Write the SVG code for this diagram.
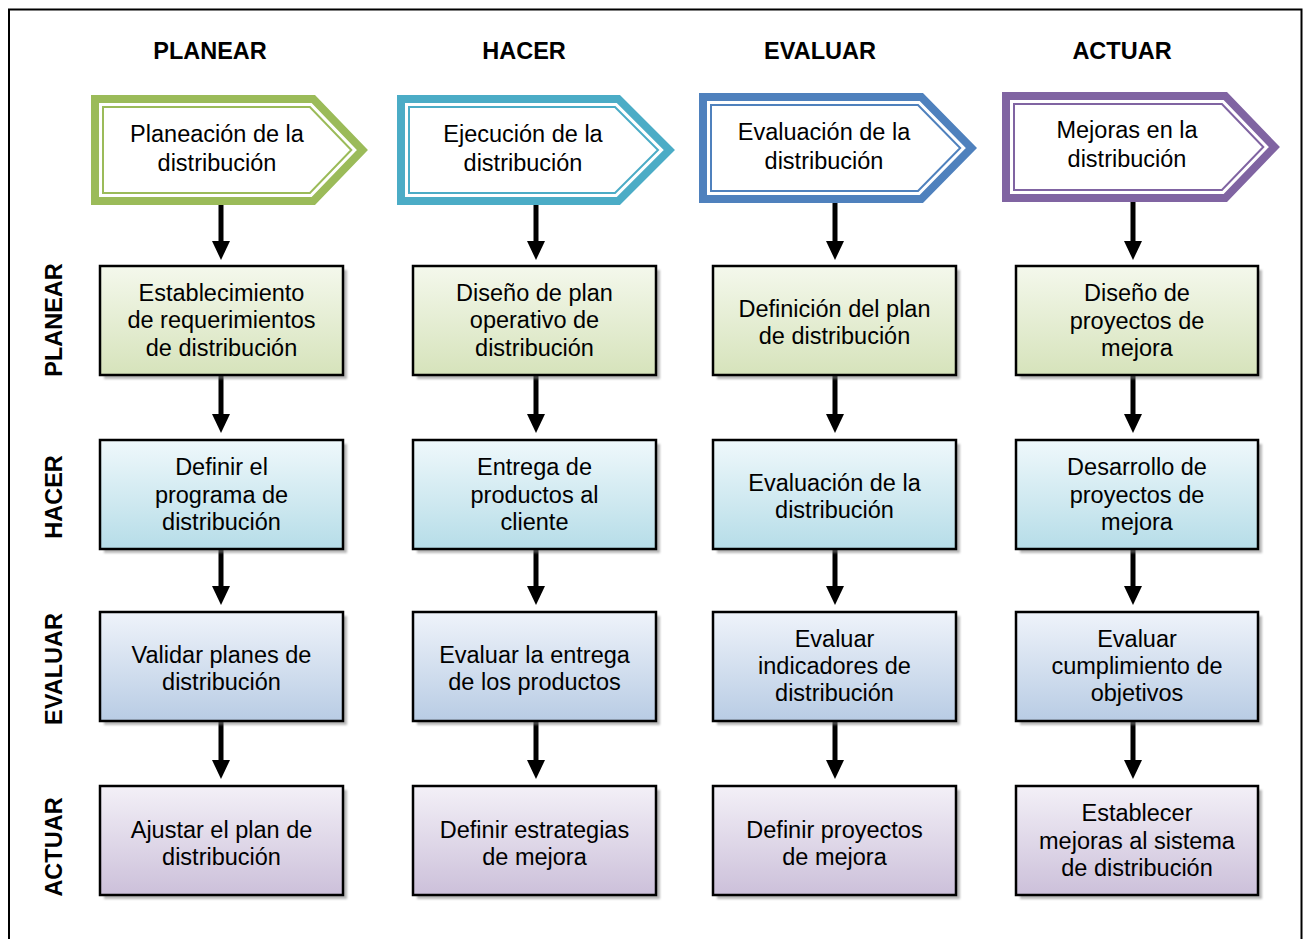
<svg xmlns="http://www.w3.org/2000/svg" width="1304" height="939" viewBox="0 0 1304 939">
  <style>
    text { font-family: "Liberation Sans", Arial, sans-serif; fill: #000; text-anchor: middle; }
    .hdr { font-size: 23.5px; font-weight: bold; }
    .lbl { font-size: 23.5px; }
    .box { stroke: #000; stroke-width: 2.5; }
    .shadow { fill: #7f7f7f; opacity: 0.55; filter: url(#soft); }
    .band { fill: #fff; stroke-width: 8; stroke-linejoin: miter; }
    .thin { fill: none; stroke-width: 2; stroke-linejoin: miter; }
    .conn { stroke: #000; stroke-width: 5; fill: none; marker-end: url(#head); }
  </style>
  <defs>
    <filter id="soft" x="-10%" y="-10%" width="120%" height="120%">
      <feGaussianBlur stdDeviation="0.8"/>
    </filter>
    <marker id="head" viewBox="0 0 19 18" refX="0" refY="9" markerWidth="19" markerHeight="18" markerUnits="userSpaceOnUse" orient="auto">
      <path d="M0,0 L19,9 L0,18 z" fill="#000"/>
    </marker>
    <linearGradient id="gPlan" x1="0" y1="0" x2="0" y2="1">
      <stop offset="0" stop-color="#f4f8ec"/>
      <stop offset="1" stop-color="#d6e3bb"/>
    </linearGradient>
    <linearGradient id="gHacer" x1="0" y1="0" x2="0" y2="1">
      <stop offset="0" stop-color="#eff8fb"/>
      <stop offset="1" stop-color="#b6dde8"/>
    </linearGradient>
    <linearGradient id="gEval" x1="0" y1="0" x2="0" y2="1">
      <stop offset="0" stop-color="#eff3fa"/>
      <stop offset="1" stop-color="#b8cce4"/>
    </linearGradient>
    <linearGradient id="gAct" x1="0" y1="0" x2="0" y2="1">
      <stop offset="0" stop-color="#f3f0f7"/>
      <stop offset="1" stop-color="#ccc0da"/>
    </linearGradient>
  </defs>

  <rect width="1304" height="939" fill="#fff"/>
  <!-- outer frame (open at the bottom edge of the page) -->
  <rect x="9" y="9.5" width="1292.5" height="960" fill="none" stroke="#000" stroke-width="2"/>

  <!-- column headers -->
  <g id="headers">
    <text class="hdr" x="210" y="59">PLANEAR</text>
    <text class="hdr" x="524" y="59">HACER</text>
    <text class="hdr" x="820" y="59">EVALUAR</text>
    <text class="hdr" x="1122" y="59">ACTUAR</text>
  </g>

  <!-- row headers -->
  <g id="rowheaders">
    <text class="hdr" transform="translate(62,320) rotate(-90)">PLANEAR</text>
    <text class="hdr" transform="translate(62,497) rotate(-90)">HACER</text>
    <text class="hdr" transform="translate(62,669) rotate(-90)">EVALUAR</text>
    <text class="hdr" transform="translate(62,847) rotate(-90)">ACTUAR</text>
  </g>

  <!-- connectors -->
  <g id="connectors">
    <path class="conn" d="M221,205 V241"/>
    <path class="conn" d="M221,376 V414"/>
    <path class="conn" d="M221,550 V586"/>
    <path class="conn" d="M221,722 V760"/>

    <path class="conn" d="M536,205 V241"/>
    <path class="conn" d="M536,376 V414"/>
    <path class="conn" d="M536,550 V586"/>
    <path class="conn" d="M536,722 V760"/>

    <path class="conn" d="M835,203 V241"/>
    <path class="conn" d="M835,376 V414"/>
    <path class="conn" d="M835,550 V586"/>
    <path class="conn" d="M835,722 V760"/>

    <path class="conn" d="M1133,202 V241"/>
    <path class="conn" d="M1133,376 V414"/>
    <path class="conn" d="M1133,550 V586"/>
    <path class="conn" d="M1133,722 V760"/>
  </g>

  <!-- phase arrows -->
  <g id="phase-planear">
    <polygon class="band" stroke="#9bbb59" points="95,99 313.3,99 362.4,150 313.3,201 95,201"/>
    <polygon class="thin" stroke="#9bbb59" points="103,107 309.9,107 351.3,150 309.9,193 103,193"/>
    <text class="lbl" x="217" y="141.5">Planeación de la</text>
    <text class="lbl" x="217" y="170.5">distribución</text>
  </g>
  <g id="phase-hacer">
    <polygon class="band" stroke="#4bacc6" points="401,99 618.3,99 669.3,150 618.3,201 401,201"/>
    <polygon class="thin" stroke="#4bacc6" points="409,107 615,107 658,150 615,193 409,193"/>
    <text class="lbl" x="523" y="141.5">Ejecución de la</text>
    <text class="lbl" x="523" y="170.5">distribución</text>
  </g>
  <g id="phase-evaluar">
    <polygon class="band" stroke="#4f81bd" points="703,97 921.3,97 971.4,148 921.3,199 703,199"/>
    <polygon class="thin" stroke="#4f81bd" points="711,105 918,105 960.2,148 918,191 711,191"/>
    <text class="lbl" x="824" y="139.5">Evaluación de la</text>
    <text class="lbl" x="824" y="168.5">distribución</text>
  </g>
  <g id="phase-actuar">
    <polygon class="band" stroke="#8064a2" points="1006,96 1225.3,96 1274.4,147 1225.3,198 1006,198"/>
    <polygon class="thin" stroke="#8064a2" points="1014,104 1221.9,104 1263.3,147 1221.9,190 1014,190"/>
    <text class="lbl" x="1127" y="137.5">Mejoras en la</text>
    <text class="lbl" x="1127" y="166.5">distribución</text>
  </g>

  <!-- row PLANEAR -->
  <g id="p-p">
    <rect class="shadow" x="104" y="270" width="243" height="109"/>
    <rect class="box" fill="url(#gPlan)" x="100" y="266" width="243" height="109"/>
    <text class="lbl" x="221.5" y="300.5">Establecimiento</text>
    <text class="lbl" x="221.5" y="327.5">de requerimientos</text>
    <text class="lbl" x="221.5" y="355.5">de distribución</text>
  </g>
  <g id="p-h">
    <rect class="shadow" x="417" y="270" width="243" height="109"/>
    <rect class="box" fill="url(#gPlan)" x="413" y="266" width="243" height="109"/>
    <text class="lbl" x="534.5" y="300.5">Diseño de plan</text>
    <text class="lbl" x="534.5" y="327.5">operativo de</text>
    <text class="lbl" x="534.5" y="355.5">distribución</text>
  </g>
  <g id="p-e">
    <rect class="shadow" x="717" y="270" width="243" height="109"/>
    <rect class="box" fill="url(#gPlan)" x="713" y="266" width="243" height="109"/>
    <text class="lbl" x="834.5" y="316.5">Definición del plan</text>
    <text class="lbl" x="834.5" y="343.5">de distribución</text>
  </g>
  <g id="p-a">
    <rect class="shadow" x="1020" y="270" width="242" height="109"/>
    <rect class="box" fill="url(#gPlan)" x="1016" y="266" width="242" height="109"/>
    <text class="lbl" x="1137" y="300.5">Diseño de</text>
    <text class="lbl" x="1137" y="328.5">proyectos de</text>
    <text class="lbl" x="1137" y="355.5">mejora</text>
  </g>

  <!-- row HACER -->
  <g id="h-p">
    <rect class="shadow" x="104" y="444" width="243" height="109"/>
    <rect class="box" fill="url(#gHacer)" x="100" y="440" width="243" height="109"/>
    <text class="lbl" x="221.5" y="474.5">Definir el</text>
    <text class="lbl" x="221.5" y="502.5">programa de</text>
    <text class="lbl" x="221.5" y="529.5">distribución</text>
  </g>
  <g id="h-h">
    <rect class="shadow" x="417" y="444" width="243" height="109"/>
    <rect class="box" fill="url(#gHacer)" x="413" y="440" width="243" height="109"/>
    <text class="lbl" x="534.5" y="474.5">Entrega de</text>
    <text class="lbl" x="534.5" y="502.5">productos al</text>
    <text class="lbl" x="534.5" y="529.5">cliente</text>
  </g>
  <g id="h-e">
    <rect class="shadow" x="717" y="444" width="243" height="109"/>
    <rect class="box" fill="url(#gHacer)" x="713" y="440" width="243" height="109"/>
    <text class="lbl" x="834.5" y="490.5">Evaluación de la</text>
    <text class="lbl" x="834.5" y="517.5">distribución</text>
  </g>
  <g id="h-a">
    <rect class="shadow" x="1020" y="444" width="242" height="109"/>
    <rect class="box" fill="url(#gHacer)" x="1016" y="440" width="242" height="109"/>
    <text class="lbl" x="1137" y="474.5">Desarrollo de</text>
    <text class="lbl" x="1137" y="502.5">proyectos de</text>
    <text class="lbl" x="1137" y="529.5">mejora</text>
  </g>

  <!-- row EVALUAR -->
  <g id="e-p">
    <rect class="shadow" x="104" y="616" width="243" height="109"/>
    <rect class="box" fill="url(#gEval)" x="100" y="612" width="243" height="109"/>
    <text class="lbl" x="221.5" y="662.5">Validar planes de</text>
    <text class="lbl" x="221.5" y="689.5">distribución</text>
  </g>
  <g id="e-h">
    <rect class="shadow" x="417" y="616" width="243" height="109"/>
    <rect class="box" fill="url(#gEval)" x="413" y="612" width="243" height="109"/>
    <text class="lbl" x="534.5" y="662.5">Evaluar la entrega</text>
    <text class="lbl" x="534.5" y="689.5">de los productos</text>
  </g>
  <g id="e-e">
    <rect class="shadow" x="717" y="616" width="243" height="109"/>
    <rect class="box" fill="url(#gEval)" x="713" y="612" width="243" height="109"/>
    <text class="lbl" x="834.5" y="646.5">Evaluar</text>
    <text class="lbl" x="834.5" y="673.5">indicadores de</text>
    <text class="lbl" x="834.5" y="700.5">distribución</text>
  </g>
  <g id="e-a">
    <rect class="shadow" x="1020" y="616" width="242" height="109"/>
    <rect class="box" fill="url(#gEval)" x="1016" y="612" width="242" height="109"/>
    <text class="lbl" x="1137" y="646.5">Evaluar</text>
    <text class="lbl" x="1137" y="673.5">cumplimiento de</text>
    <text class="lbl" x="1137" y="700.5">objetivos</text>
  </g>

  <!-- row ACTUAR -->
  <g id="a-p">
    <rect class="shadow" x="104" y="790" width="243" height="109"/>
    <rect class="box" fill="url(#gAct)" x="100" y="786" width="243" height="109"/>
    <text class="lbl" x="221.5" y="837.5">Ajustar el plan de</text>
    <text class="lbl" x="221.5" y="864.5">distribución</text>
  </g>
  <g id="a-h">
    <rect class="shadow" x="417" y="790" width="243" height="109"/>
    <rect class="box" fill="url(#gAct)" x="413" y="786" width="243" height="109"/>
    <text class="lbl" x="534.5" y="837.5">Definir estrategias</text>
    <text class="lbl" x="534.5" y="864.5">de mejora</text>
  </g>
  <g id="a-e">
    <rect class="shadow" x="717" y="790" width="243" height="109"/>
    <rect class="box" fill="url(#gAct)" x="713" y="786" width="243" height="109"/>
    <text class="lbl" x="834.5" y="837.5">Definir proyectos</text>
    <text class="lbl" x="834.5" y="864.5">de mejora</text>
  </g>
  <g id="a-a">
    <rect class="shadow" x="1020" y="790" width="242" height="109"/>
    <rect class="box" fill="url(#gAct)" x="1016" y="786" width="242" height="109"/>
    <text class="lbl" x="1137" y="820.5">Establecer</text>
    <text class="lbl" x="1137" y="848.5">mejoras al sistema</text>
    <text class="lbl" x="1137" y="875.5">de distribución</text>
  </g>
</svg>
